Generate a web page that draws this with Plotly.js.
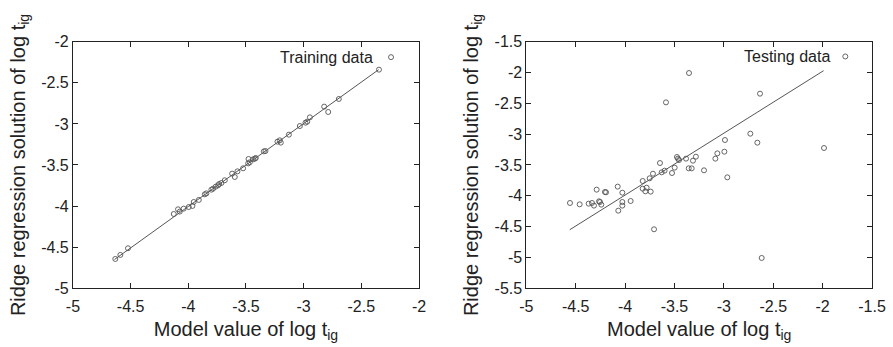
<!DOCTYPE html>
<html><head><meta charset="utf-8">
<script src="https://cdn.plot.ly/plotly-3.0.1.min.js"></script>
<style>html,body{margin:0;padding:0;background:#fff}#chart{width:893px;height:347px}</style>
</head><body><div id="chart"></div>
<script>
// Training data (model value, ridge regression solution) of log t_ig
const trainX = [-4.633,-4.589,-4.523,-4.126,-4.089,-4.074,-4.040,-3.996,-3.964,-3.953,-3.909,-3.857,-3.843,-3.800,-3.785,-3.762,-3.742,-3.733,-3.713,-3.684,-3.620,-3.597,-3.574,-3.525,-3.478,-3.481,-3.467,-3.438,-3.423,-3.415,-3.345,-3.331,-3.227,-3.207,-3.198,-3.128,-3.033,-2.984,-2.969,-2.946,-2.822,-2.787,-2.695,-2.347];
const trainY = [-4.643,-4.594,-4.513,-4.096,-4.039,-4.067,-4.031,-4.011,-3.998,-3.950,-3.925,-3.857,-3.845,-3.800,-3.788,-3.763,-3.747,-3.731,-3.719,-3.686,-3.605,-3.646,-3.577,-3.540,-3.427,-3.480,-3.467,-3.431,-3.423,-3.415,-3.334,-3.330,-3.216,-3.200,-3.228,-3.131,-3.026,-2.985,-2.973,-2.920,-2.790,-2.855,-2.697,-2.340];
const trainFitX = [-4.64, -2.35];
const trainFitY = [-4.65, -2.34];

// Testing data
const testX = [-4.558,-4.460,-4.369,-4.335,-4.315,-4.288,-4.264,-4.254,-4.241,-4.204,-4.193,-4.075,-4.069,-4.028,-4.028,-4.028,-3.944,-3.822,-3.822,-3.795,-3.782,-3.751,-3.741,-3.718,-3.707,-3.647,-3.630,-3.600,-3.586,-3.525,-3.498,-3.475,-3.465,-3.454,-3.383,-3.356,-3.353,-3.326,-3.313,-3.283,-3.201,-3.086,-3.066,-2.995,-2.989,-2.965,-2.732,-2.661,-2.634,-2.617,-1.986];
const testY = [-4.116,-4.138,-4.127,-4.116,-4.159,-3.900,-4.089,-4.100,-4.143,-3.938,-3.943,-3.851,-4.241,-3.949,-4.100,-4.159,-4.084,-3.759,-3.884,-3.927,-3.868,-3.716,-3.932,-3.641,-4.543,-3.468,-3.619,-3.592,-2.484,-3.630,-3.543,-3.370,-3.397,-3.419,-3.397,-3.554,-2.008,-3.554,-3.430,-3.365,-3.586,-3.397,-3.311,-3.284,-3.095,-3.700,-2.992,-3.138,-2.343,-5.008,-3.224];
const testFitX = [-4.56, -1.99];
const testFitY = [-4.55, -1.97];

const leftXTicks = [-5,-4.5,-4,-3.5,-3,-2.5,-2];
const leftYTicks = [-5,-4.5,-4,-3.5,-3,-2.5,-2];
const rightXTicks = [-5,-4.5,-4,-3.5,-3,-2.5,-2,-1.5];
const rightYTicks = [-5.5,-5,-4.5,-4,-3.5,-3,-2.5,-2,-1.5];
const tickText = v => String(v);

const FONT = 'Liberation Sans, Arial, Helvetica, sans-serif';
const INK = '#222';
const MARK = '#555';

const marker = {symbol:'circle-open', size:5, color:MARK, line:{width:0.9, color:MARK}};

const traces = [
  {x:trainX, y:trainY, mode:'markers', marker, name:'', xaxis:'x', yaxis:'y', showlegend:true, legend:'legend', hoverinfo:'x+y'},
  {x:trainFitX, y:trainFitY, mode:'lines', line:{color:MARK, width:1}, xaxis:'x', yaxis:'y', showlegend:false},
  {x:testX, y:testY, mode:'markers', marker, name:'', xaxis:'x2', yaxis:'y2', showlegend:true, legend:'legend2', hoverinfo:'x+y'},
  {x:testFitX, y:testFitY, mode:'lines', line:{color:MARK, width:1}, xaxis:'x2', yaxis:'y2', showlegend:false}
];

function axis(domain, range, ticks, title, anchor, standoff, labelOff) {
  return {
    domain, range, anchor, tickvals: ticks, ticktext: ticks.map(tickText),
    ticks:'inside', ticklen:5, tickwidth:1, tickcolor:INK,
    showline:true, linecolor:INK, linewidth:1, mirror:'allticks',
    showgrid:false, zeroline:false, automargin:false,
    ticklabelstandoff: labelOff,
    tickfont:{family:FONT, size:16, color:INK},
    title:{text:title, font:{family:FONT, size:20, color:INK}, standoff}
  };
}

const yDom = [0.1692, 0.8798];
const xTitle = 'Model value of log t<sub>ig</sub>';
const yTitle = 'Ridge regression solution of log t<sub>ig</sub>';

const layout = {
  width:893, height:347,
  margin:{l:0,r:0,t:0,b:0},
  paper_bgcolor:'#fff', plot_bgcolor:'#fff',
  font:{family:FONT, color:INK},
  xaxis: axis([0.0817,0.4692],[-5,-2],leftXTicks,xTitle,'y',7,4),
  yaxis: axis(yDom,[-5,-2],leftYTicks,yTitle,'x',10,0),
  xaxis2: axis([0.5894,0.9765],[-5,-1.5],rightXTicks,xTitle,'y2',7,4),
  yaxis2: axis(yDom,[-5.5,-1.5],rightYTicks,yTitle,'x2',10,0),
  legend:{x:0.4155, xanchor:'left', y:0.835, yanchor:'middle', bgcolor:'rgba(0,0,0,0)', borderwidth:0, font:{family:FONT,size:16,color:INK}},
  legend2:{x:0.9242, xanchor:'left', y:0.837, yanchor:'middle', bgcolor:'rgba(0,0,0,0)', borderwidth:0, font:{family:FONT,size:16,color:INK}},
  annotations:[
    {xref:'paper', yref:'paper', x:0.4200, y:0.8357, xanchor:'right', yanchor:'middle', text:'Training data', showarrow:false, font:{family:FONT,size:16,color:INK}},
    {xref:'paper', yref:'paper', x:0.9320, y:0.8367, xanchor:'right', yanchor:'middle', text:'Testing data', showarrow:false, font:{family:FONT,size:16,color:INK}}
  ],
  showlegend:true
};

Plotly.newPlot('chart', traces, layout, {displayModeBar:false, staticPlot:true});
</script></body></html>
